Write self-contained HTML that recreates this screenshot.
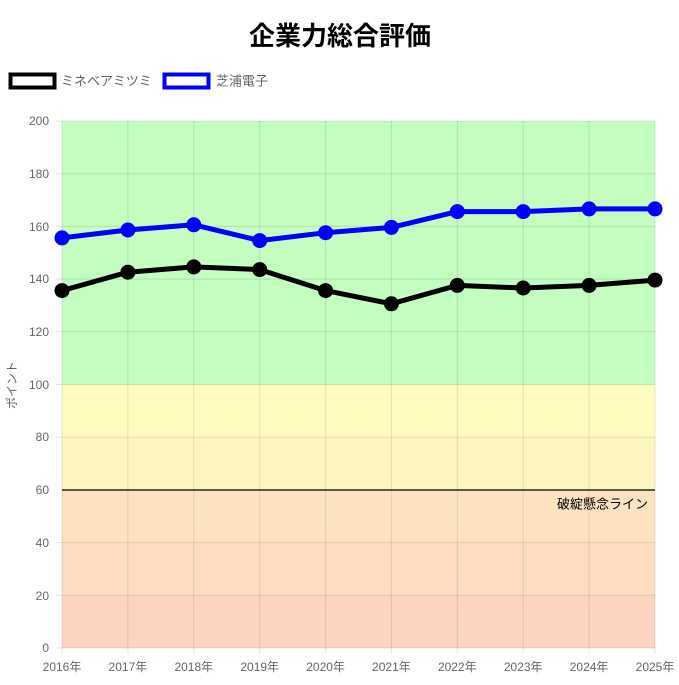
<!DOCTYPE html>
<html><head><meta charset="utf-8"><style>
html,body{margin:0;padding:0;background:#fff;}
svg text{font-family:"Liberation Sans","Noto Sans CJK JP",sans-serif;}
</style></head><body>
<svg width="679" height="680" viewBox="0 0 679 680" xmlns="http://www.w3.org/2000/svg">
<text x="340" y="45" text-anchor="middle" font-size="26" font-weight="bold" fill="#000">企業力総合評価</text>
<rect x="10.5" y="74.5" width="44" height="13" fill="#fff" stroke="#000" stroke-width="4"/>
<text x="61" y="85.5" font-size="13" fill="#666">ミネベアミツミ</text>
<rect x="164.5" y="74.5" width="44" height="13" fill="#fff" stroke="#00f" stroke-width="4"/>
<text x="216" y="85.5" font-size="13" fill="#666">芝浦電子</text>
<rect x="62" y="121" width="593" height="263.5" fill="#c3fdc0"/>
<rect x="62" y="384.5" width="593" height="52.7" fill="#fffbbf"/>
<rect x="62" y="437.2" width="593" height="52.7" fill="#fdf5c0"/>
<rect x="62" y="489.9" width="593" height="52.7" fill="#fde2c0"/>
<rect x="62" y="542.6" width="593" height="52.7" fill="#fddcc0"/>
<rect x="62" y="595.3" width="593" height="52.7" fill="#fdd4c0"/>
<g stroke="rgba(0,0,0,0.1)" stroke-width="1">
<line x1="56" y1="121" x2="655" y2="121"/><line x1="56" y1="173.7" x2="655" y2="173.7"/><line x1="56" y1="226.4" x2="655" y2="226.4"/><line x1="56" y1="279.1" x2="655" y2="279.1"/><line x1="56" y1="331.8" x2="655" y2="331.8"/><line x1="56" y1="384.5" x2="655" y2="384.5"/><line x1="56" y1="437.2" x2="655" y2="437.2"/><line x1="56" y1="542.6" x2="655" y2="542.6"/><line x1="56" y1="595.3" x2="655" y2="595.3"/><line x1="56" y1="648" x2="655" y2="648"/>
<line x1="62" y1="121" x2="62" y2="654"/><line x1="127.9" y1="121" x2="127.9" y2="654"/><line x1="193.8" y1="121" x2="193.8" y2="654"/><line x1="259.7" y1="121" x2="259.7" y2="654"/><line x1="325.6" y1="121" x2="325.6" y2="654"/><line x1="391.4" y1="121" x2="391.4" y2="654"/><line x1="457.3" y1="121" x2="457.3" y2="654"/><line x1="523.2" y1="121" x2="523.2" y2="654"/><line x1="589.1" y1="121" x2="589.1" y2="654"/><line x1="655" y1="121" x2="655" y2="654"/>
</g>
<line x1="62" y1="490" x2="655" y2="490" stroke="#000" stroke-width="1.2"/>
<text x="648" y="508.5" text-anchor="end" font-size="13" fill="#000">破綻懸念ライン</text>
<g font-size="12" fill="#666" text-anchor="end">
<text x="49" y="125">200</text><text x="49" y="178">180</text><text x="49" y="231">160</text><text x="49" y="283">140</text><text x="49" y="336">120</text><text x="49" y="389">100</text><text x="49" y="441">80</text><text x="49" y="494">60</text><text x="49" y="547">40</text><text x="49" y="600">20</text><text x="49" y="652">0</text>
</g>
<g font-size="12" fill="#666" text-anchor="middle">
<text x="62" y="671">2016年</text><text x="127.9" y="671">2017年</text><text x="193.8" y="671">2018年</text><text x="259.7" y="671">2019年</text><text x="325.6" y="671">2020年</text><text x="391.4" y="671">2021年</text><text x="457.3" y="671">2022年</text><text x="523.2" y="671">2023年</text><text x="589.1" y="671">2024年</text><text x="655" y="671">2025年</text>
</g>
<text transform="translate(16,385) rotate(-90)" text-anchor="middle" font-size="12" fill="#666">ポイント</text>
<g transform="translate(0,1)">
<polyline fill="none" stroke="#000" stroke-width="5" stroke-linejoin="round" points="62,289.6 127.9,271.2 193.8,265.9 259.7,268.6 325.6,289.6 391.4,302.8 457.3,284.4 523.2,287 589.1,284.4 655,279.1"/>
<g fill="#000"><circle cx="62" cy="289.6" r="7.5"/><circle cx="127.9" cy="271.2" r="7.5"/><circle cx="193.8" cy="265.9" r="7.5"/><circle cx="259.7" cy="268.6" r="7.5"/><circle cx="325.6" cy="289.6" r="7.5"/><circle cx="391.4" cy="302.8" r="7.5"/><circle cx="457.3" cy="284.4" r="7.5"/><circle cx="523.2" cy="287" r="7.5"/><circle cx="589.1" cy="284.4" r="7.5"/><circle cx="655" cy="279.1" r="7.5"/></g>
<polyline fill="none" stroke="#00f" stroke-width="5" stroke-linejoin="round" points="62,236.9 127.9,229 193.8,223.8 259.7,239.6 325.6,231.7 391.4,226.4 457.3,210.6 523.2,210.6 589.1,207.9 655,207.9"/>
<g fill="#00f"><circle cx="62" cy="236.9" r="7.5"/><circle cx="127.9" cy="229" r="7.5"/><circle cx="193.8" cy="223.8" r="7.5"/><circle cx="259.7" cy="239.6" r="7.5"/><circle cx="325.6" cy="231.7" r="7.5"/><circle cx="391.4" cy="226.4" r="7.5"/><circle cx="457.3" cy="210.6" r="7.5"/><circle cx="523.2" cy="210.6" r="7.5"/><circle cx="589.1" cy="207.9" r="7.5"/><circle cx="655" cy="207.9" r="7.5"/></g>
</g>
</svg>
</body></html>
